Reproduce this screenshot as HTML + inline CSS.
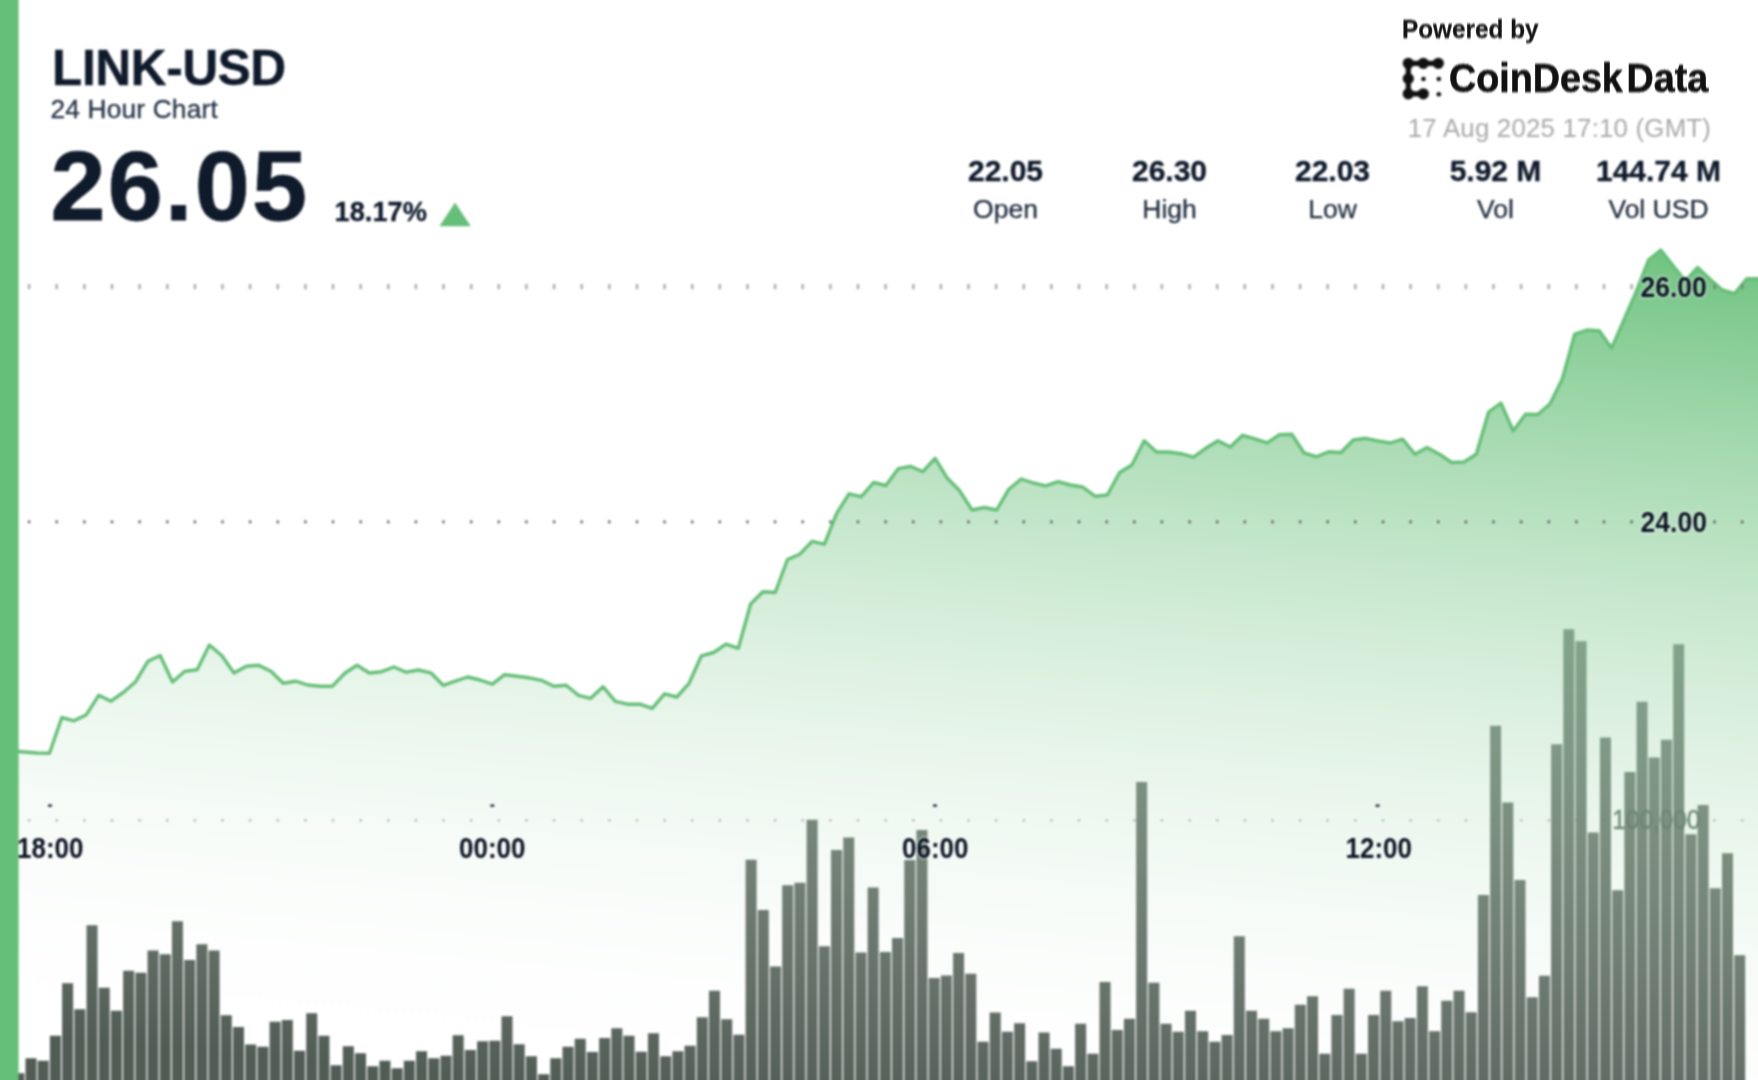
<!DOCTYPE html>
<html><head><meta charset="utf-8"><title>LINK-USD 24 Hour Chart</title>
<style>
html,body{margin:0;padding:0;background:#fff;overflow:hidden;}
body{width:1758px;height:1080px;overflow:hidden;position:relative;font-family:"Liberation Sans",sans-serif;color:#0f1a2b;}
svg{position:absolute;left:-20px;top:-20px;filter:blur(0.8px);}
.t{position:absolute;white-space:nowrap;line-height:1;transform-origin:0 0;filter:blur(0.8px);}
.b{font-weight:bold;}
.c{position:absolute;white-space:nowrap;line-height:1;text-align:center;transform:translateX(-50%);filter:blur(0.8px);}
</style></head><body>
<svg width="1798" height="1120" viewBox="-20 -20 1798 1120">
<defs>
<linearGradient id="ag" gradientUnits="userSpaceOnUse" x1="1758" y1="225.6" x2="1668.5" y2="1188.1">
<stop offset="0" stop-color="#66bf78" stop-opacity="1"/>
<stop offset="1" stop-color="#ffffff" stop-opacity="0"/>
</linearGradient>
</defs>
<rect x="-20" y="-20" width="1798" height="1120" fill="#fff"/>
<path d="M28.0,819.0h2.2v2.6h-2.2zM55.6,819.0h2.2v2.6h-2.2zM83.3,819.0h2.2v2.6h-2.2zM110.9,819.0h2.2v2.6h-2.2zM138.5,819.0h2.2v2.6h-2.2zM166.2,819.0h2.2v2.6h-2.2zM193.8,819.0h2.2v2.6h-2.2zM221.4,819.0h2.2v2.6h-2.2zM249.0,819.0h2.2v2.6h-2.2zM276.7,819.0h2.2v2.6h-2.2zM304.3,819.0h2.2v2.6h-2.2zM331.9,819.0h2.2v2.6h-2.2zM359.6,819.0h2.2v2.6h-2.2zM387.2,819.0h2.2v2.6h-2.2zM414.8,819.0h2.2v2.6h-2.2zM442.4,819.0h2.2v2.6h-2.2zM470.1,819.0h2.2v2.6h-2.2zM497.7,819.0h2.2v2.6h-2.2zM525.3,819.0h2.2v2.6h-2.2zM553.0,819.0h2.2v2.6h-2.2zM580.6,819.0h2.2v2.6h-2.2zM608.2,819.0h2.2v2.6h-2.2zM635.9,819.0h2.2v2.6h-2.2zM663.5,819.0h2.2v2.6h-2.2zM691.1,819.0h2.2v2.6h-2.2zM718.7,819.0h2.2v2.6h-2.2zM746.4,819.0h2.2v2.6h-2.2zM774.0,819.0h2.2v2.6h-2.2zM801.6,819.0h2.2v2.6h-2.2zM829.3,819.0h2.2v2.6h-2.2zM856.9,819.0h2.2v2.6h-2.2zM884.5,819.0h2.2v2.6h-2.2zM912.2,819.0h2.2v2.6h-2.2zM939.8,819.0h2.2v2.6h-2.2zM967.4,819.0h2.2v2.6h-2.2zM995.0,819.0h2.2v2.6h-2.2zM1022.7,819.0h2.2v2.6h-2.2zM1050.3,819.0h2.2v2.6h-2.2zM1077.9,819.0h2.2v2.6h-2.2zM1105.6,819.0h2.2v2.6h-2.2zM1133.2,819.0h2.2v2.6h-2.2zM1160.8,819.0h2.2v2.6h-2.2zM1188.5,819.0h2.2v2.6h-2.2zM1216.1,819.0h2.2v2.6h-2.2zM1243.7,819.0h2.2v2.6h-2.2zM1271.4,819.0h2.2v2.6h-2.2zM1299.0,819.0h2.2v2.6h-2.2zM1326.6,819.0h2.2v2.6h-2.2zM1354.2,819.0h2.2v2.6h-2.2zM1381.9,819.0h2.2v2.6h-2.2zM1409.5,819.0h2.2v2.6h-2.2zM1437.1,819.0h2.2v2.6h-2.2zM1464.8,819.0h2.2v2.6h-2.2zM1492.4,819.0h2.2v2.6h-2.2zM1520.0,819.0h2.2v2.6h-2.2zM1547.7,819.0h2.2v2.6h-2.2zM1575.3,819.0h2.2v2.6h-2.2zM1602.9,819.0h2.2v2.6h-2.2zM1630.5,819.0h2.2v2.6h-2.2zM1658.2,819.0h2.2v2.6h-2.2zM1685.8,819.0h2.2v2.6h-2.2zM1713.4,819.0h2.2v2.6h-2.2zM1741.1,819.0h2.2v2.6h-2.2z" fill="#5f5a5f" fill-opacity="0.55"/>
<text x="1656.3" y="829.4" text-anchor="middle" textLength="88" lengthAdjust="spacingAndGlyphs" font-family="Liberation Sans, sans-serif" font-size="27.5" fill="rgb(38,68,48)" fill-opacity="0.9" stroke="rgb(38,68,48)" stroke-opacity="0.6" stroke-width="0.7">100,000</text>
<path d="M13.29,1110V1073.3h11.0V1110zM25.50,1110V1058.3h11.0V1110zM37.70,1110V1060.8h11.0V1110zM49.91,1110V1035.8h11.0V1110zM62.11,1110V983.3h11.0V1110zM74.32,1110V1009.2h11.0V1110zM86.53,1110V925.3h11.0V1110zM98.73,1110V987.8h11.0V1110zM110.94,1110V1010.8h11.0V1110zM123.14,1110V970.8h11.0V1110zM135.34,1110V972.8h11.0V1110zM147.55,1110V950.5h11.0V1110zM159.75,1110V954.2h11.0V1110zM171.96,1110V921.2h11.0V1110zM184.16,1110V960.0h11.0V1110zM196.37,1110V944.2h11.0V1110zM208.57,1110V950.5h11.0V1110zM220.78,1110V1015.3h11.0V1110zM232.98,1110V1027.0h11.0V1110zM245.19,1110V1044.5h11.0V1110zM257.39,1110V1046.7h11.0V1110zM269.60,1110V1021.7h11.0V1110zM281.81,1110V1020.0h11.0V1110zM294.01,1110V1050.8h11.0V1110zM306.22,1110V1013.3h11.0V1110zM318.42,1110V1035.8h11.0V1110zM330.62,1110V1065.3h11.0V1110zM342.83,1110V1046.2h11.0V1110zM355.03,1110V1053.3h11.0V1110zM367.24,1110V1066.2h11.0V1110zM379.45,1110V1060.8h11.0V1110zM391.65,1110V1068.3h11.0V1110zM403.86,1110V1060.8h11.0V1110zM416.06,1110V1051.2h11.0V1110zM428.26,1110V1058.3h11.0V1110zM440.47,1110V1055.8h11.0V1110zM452.67,1110V1035.3h11.0V1110zM464.88,1110V1050.0h11.0V1110zM477.09,1110V1041.2h11.0V1110zM489.29,1110V1040.8h11.0V1110zM501.50,1110V1016.2h11.0V1110zM513.70,1110V1044.2h11.0V1110zM525.90,1110V1056.2h11.0V1110zM538.11,1110V1074.2h11.0V1110zM550.32,1110V1058.3h11.0V1110zM562.52,1110V1046.7h11.0V1110zM574.73,1110V1038.7h11.0V1110zM586.93,1110V1052.0h11.0V1110zM599.13,1110V1038.0h11.0V1110zM611.34,1110V1028.3h11.0V1110zM623.54,1110V1035.8h11.0V1110zM635.75,1110V1051.7h11.0V1110zM647.95,1110V1033.3h11.0V1110zM660.16,1110V1056.2h11.0V1110zM672.37,1110V1051.3h11.0V1110zM684.57,1110V1045.8h11.0V1110zM696.77,1110V1017.2h11.0V1110zM708.98,1110V990.8h11.0V1110zM721.18,1110V1019.2h11.0V1110zM733.39,1110V1034.7h11.0V1110zM745.60,1110V859.7h11.0V1110zM757.80,1110V910.0h11.0V1110zM770.00,1110V966.5h11.0V1110zM782.21,1110V885.3h11.0V1110zM794.41,1110V882.8h11.0V1110zM806.62,1110V819.7h11.0V1110zM818.82,1110V946.3h11.0V1110zM831.03,1110V850.0h11.0V1110zM843.24,1110V837.5h11.0V1110zM855.44,1110V952.5h11.0V1110zM867.64,1110V887.5h11.0V1110zM879.85,1110V952.0h11.0V1110zM892.05,1110V938.0h11.0V1110zM904.26,1110V860.0h11.0V1110zM916.46,1110V830.0h11.0V1110zM928.67,1110V978.0h11.0V1110zM940.88,1110V975.5h11.0V1110zM953.08,1110V953.0h11.0V1110zM965.28,1110V973.7h11.0V1110zM977.49,1110V1041.7h11.0V1110zM989.69,1110V1012.5h11.0V1110zM1001.90,1110V1031.7h11.0V1110zM1014.11,1110V1023.3h11.0V1110zM1026.31,1110V1061.3h11.0V1110zM1038.52,1110V1032.5h11.0V1110zM1050.72,1110V1048.8h11.0V1110zM1062.92,1110V1066.2h11.0V1110zM1075.13,1110V1023.7h11.0V1110zM1087.34,1110V1053.7h11.0V1110zM1099.54,1110V982.0h11.0V1110zM1111.75,1110V1030.0h11.0V1110zM1123.95,1110V1018.7h11.0V1110zM1136.16,1110V782.0h11.0V1110zM1148.36,1110V982.8h11.0V1110zM1160.57,1110V1023.7h11.0V1110zM1172.77,1110V1031.7h11.0V1110zM1184.98,1110V1010.8h11.0V1110zM1197.18,1110V1031.2h11.0V1110zM1209.38,1110V1041.7h11.0V1110zM1221.59,1110V1035.0h11.0V1110zM1233.80,1110V936.3h11.0V1110zM1246.00,1110V1010.8h11.0V1110zM1258.21,1110V1018.7h11.0V1110zM1270.41,1110V1031.3h11.0V1110zM1282.62,1110V1028.3h11.0V1110zM1294.82,1110V1004.7h11.0V1110zM1307.03,1110V996.2h11.0V1110zM1319.23,1110V1053.7h11.0V1110zM1331.44,1110V1015.0h11.0V1110zM1343.64,1110V988.8h11.0V1110zM1355.85,1110V1053.7h11.0V1110zM1368.05,1110V1015.0h11.0V1110zM1380.26,1110V990.8h11.0V1110zM1392.46,1110V1021.2h11.0V1110zM1404.67,1110V1018.0h11.0V1110zM1416.87,1110V986.2h11.0V1110zM1429.08,1110V1031.3h11.0V1110zM1441.28,1110V1000.8h11.0V1110zM1453.49,1110V990.8h11.0V1110zM1465.69,1110V1012.2h11.0V1110zM1477.89,1110V895.0h11.0V1110zM1490.10,1110V725.8h11.0V1110zM1502.31,1110V802.5h11.0V1110zM1514.51,1110V880.0h11.0V1110zM1526.72,1110V997.2h11.0V1110zM1538.92,1110V975.8h11.0V1110zM1551.12,1110V744.2h11.0V1110zM1563.33,1110V629.2h11.0V1110zM1575.54,1110V641.3h11.0V1110zM1587.74,1110V832.5h11.0V1110zM1599.95,1110V737.5h11.0V1110zM1612.15,1110V890.3h11.0V1110zM1624.36,1110V772.0h11.0V1110zM1636.56,1110V701.7h11.0V1110zM1648.77,1110V757.5h11.0V1110zM1660.97,1110V739.7h11.0V1110zM1673.18,1110V644.2h11.0V1110zM1685.38,1110V834.2h11.0V1110zM1697.59,1110V805.0h11.0V1110zM1709.79,1110V888.3h11.0V1110zM1722.00,1110V853.3h11.0V1110zM1734.20,1110V955.3h11.0V1110z" fill="rgb(56,70,60)" fill-opacity="0.88"/>
<path d="M12.6,751.0 L24.9,752.0 L37.2,753.0 L49.5,753.3 L61.8,717.5 L74.1,720.8 L86.4,714.7 L98.7,695.3 L111.0,701.2 L123.3,692.5 L135.6,681.7 L147.9,661.3 L160.2,655.5 L172.5,682.0 L184.8,671.3 L197.1,669.7 L209.4,645.0 L221.7,655.5 L234.0,673.0 L246.3,666.3 L258.6,665.3 L270.9,671.3 L283.2,683.3 L295.5,681.2 L307.8,685.0 L320.1,686.2 L332.4,686.2 L344.7,673.3 L357.0,665.3 L369.3,673.0 L381.6,671.7 L393.9,667.0 L406.2,672.2 L418.5,670.0 L430.8,672.8 L443.1,685.3 L455.4,681.2 L467.7,677.0 L480.0,680.0 L492.3,684.2 L504.6,674.7 L516.9,676.2 L529.2,677.8 L541.5,680.3 L553.8,686.3 L566.1,685.3 L578.4,695.3 L590.7,698.3 L603.0,686.7 L615.3,701.3 L627.6,704.2 L639.9,704.2 L652.2,708.3 L664.5,693.8 L676.8,697.0 L689.1,683.3 L701.4,655.8 L713.7,652.5 L726.0,644.2 L738.3,648.3 L750.6,604.0 L762.9,591.8 L775.2,592.5 L787.5,559.5 L799.8,554.2 L812.1,541.3 L824.4,544.2 L836.7,513.3 L849.0,493.8 L861.3,496.7 L873.6,482.5 L885.9,485.5 L898.2,468.7 L910.5,466.3 L922.8,471.7 L935.1,458.3 L947.4,478.3 L959.7,490.8 L972.0,510.0 L984.3,507.5 L996.6,510.0 L1008.9,489.2 L1021.2,479.0 L1033.5,483.0 L1045.8,485.8 L1058.1,481.7 L1070.4,485.0 L1082.7,487.0 L1095.0,496.2 L1107.3,495.0 L1119.6,472.5 L1131.9,465.0 L1144.2,440.8 L1156.5,452.0 L1168.8,452.0 L1181.1,453.7 L1193.4,457.2 L1205.7,448.3 L1218.0,440.8 L1230.3,447.0 L1242.6,435.3 L1254.9,438.8 L1267.2,442.8 L1279.5,434.7 L1291.8,434.2 L1304.1,453.0 L1316.4,456.7 L1328.7,451.7 L1341.0,452.5 L1353.3,440.0 L1365.6,438.3 L1377.9,440.8 L1390.2,443.0 L1402.5,439.2 L1414.8,454.2 L1427.1,447.5 L1439.4,454.2 L1451.7,462.5 L1464.0,462.0 L1476.3,454.2 L1488.6,412.0 L1500.9,403.0 L1513.2,431.0 L1525.5,414.2 L1537.8,414.5 L1550.1,403.8 L1562.4,378.8 L1574.7,334.2 L1587.0,330.0 L1599.3,330.8 L1611.6,348.3 L1623.9,320.0 L1636.2,291.7 L1648.5,260.0 L1660.8,250.0 L1673.1,265.8 L1685.4,281.0 L1697.7,267.5 L1710.0,279.2 L1722.3,290.0 L1734.6,293.7 L1746.9,278.7 L1759.2,278.7 L1790,278.7 L1790,278.7 L1790,1110 L-10,1110 L-10,751.0 Z" fill="url(#ag)"/>
<path d="M12.6,751.0 L24.9,752.0 L37.2,753.0 L49.5,753.3 L61.8,717.5 L74.1,720.8 L86.4,714.7 L98.7,695.3 L111.0,701.2 L123.3,692.5 L135.6,681.7 L147.9,661.3 L160.2,655.5 L172.5,682.0 L184.8,671.3 L197.1,669.7 L209.4,645.0 L221.7,655.5 L234.0,673.0 L246.3,666.3 L258.6,665.3 L270.9,671.3 L283.2,683.3 L295.5,681.2 L307.8,685.0 L320.1,686.2 L332.4,686.2 L344.7,673.3 L357.0,665.3 L369.3,673.0 L381.6,671.7 L393.9,667.0 L406.2,672.2 L418.5,670.0 L430.8,672.8 L443.1,685.3 L455.4,681.2 L467.7,677.0 L480.0,680.0 L492.3,684.2 L504.6,674.7 L516.9,676.2 L529.2,677.8 L541.5,680.3 L553.8,686.3 L566.1,685.3 L578.4,695.3 L590.7,698.3 L603.0,686.7 L615.3,701.3 L627.6,704.2 L639.9,704.2 L652.2,708.3 L664.5,693.8 L676.8,697.0 L689.1,683.3 L701.4,655.8 L713.7,652.5 L726.0,644.2 L738.3,648.3 L750.6,604.0 L762.9,591.8 L775.2,592.5 L787.5,559.5 L799.8,554.2 L812.1,541.3 L824.4,544.2 L836.7,513.3 L849.0,493.8 L861.3,496.7 L873.6,482.5 L885.9,485.5 L898.2,468.7 L910.5,466.3 L922.8,471.7 L935.1,458.3 L947.4,478.3 L959.7,490.8 L972.0,510.0 L984.3,507.5 L996.6,510.0 L1008.9,489.2 L1021.2,479.0 L1033.5,483.0 L1045.8,485.8 L1058.1,481.7 L1070.4,485.0 L1082.7,487.0 L1095.0,496.2 L1107.3,495.0 L1119.6,472.5 L1131.9,465.0 L1144.2,440.8 L1156.5,452.0 L1168.8,452.0 L1181.1,453.7 L1193.4,457.2 L1205.7,448.3 L1218.0,440.8 L1230.3,447.0 L1242.6,435.3 L1254.9,438.8 L1267.2,442.8 L1279.5,434.7 L1291.8,434.2 L1304.1,453.0 L1316.4,456.7 L1328.7,451.7 L1341.0,452.5 L1353.3,440.0 L1365.6,438.3 L1377.9,440.8 L1390.2,443.0 L1402.5,439.2 L1414.8,454.2 L1427.1,447.5 L1439.4,454.2 L1451.7,462.5 L1464.0,462.0 L1476.3,454.2 L1488.6,412.0 L1500.9,403.0 L1513.2,431.0 L1525.5,414.2 L1537.8,414.5 L1550.1,403.8 L1562.4,378.8 L1574.7,334.2 L1587.0,330.0 L1599.3,330.8 L1611.6,348.3 L1623.9,320.0 L1636.2,291.7 L1648.5,260.0 L1660.8,250.0 L1673.1,265.8 L1685.4,281.0 L1697.7,267.5 L1710.0,279.2 L1722.3,290.0 L1734.6,293.7 L1746.9,278.7 L1759.2,278.7 L1790,278.7" fill="none" stroke="#66bf78" stroke-width="3.4" stroke-linejoin="round" stroke-linecap="round"/>
<path d="M27.9,284.1h2.4v5.2h-2.4zM55.5,284.1h2.4v5.2h-2.4zM83.2,284.1h2.4v5.2h-2.4zM110.8,284.1h2.4v5.2h-2.4zM138.4,284.1h2.4v5.2h-2.4zM166.1,284.1h2.4v5.2h-2.4zM193.7,284.1h2.4v5.2h-2.4zM221.3,284.1h2.4v5.2h-2.4zM248.9,284.1h2.4v5.2h-2.4zM276.6,284.1h2.4v5.2h-2.4zM304.2,284.1h2.4v5.2h-2.4zM331.8,284.1h2.4v5.2h-2.4zM359.5,284.1h2.4v5.2h-2.4zM387.1,284.1h2.4v5.2h-2.4zM414.7,284.1h2.4v5.2h-2.4zM442.3,284.1h2.4v5.2h-2.4zM470.0,284.1h2.4v5.2h-2.4zM497.6,284.1h2.4v5.2h-2.4zM525.2,284.1h2.4v5.2h-2.4zM552.9,284.1h2.4v5.2h-2.4zM580.5,284.1h2.4v5.2h-2.4zM608.1,284.1h2.4v5.2h-2.4zM635.8,284.1h2.4v5.2h-2.4zM663.4,284.1h2.4v5.2h-2.4zM691.0,284.1h2.4v5.2h-2.4zM718.6,284.1h2.4v5.2h-2.4zM746.3,284.1h2.4v5.2h-2.4zM773.9,284.1h2.4v5.2h-2.4zM801.5,284.1h2.4v5.2h-2.4zM829.2,284.1h2.4v5.2h-2.4zM856.8,284.1h2.4v5.2h-2.4zM884.4,284.1h2.4v5.2h-2.4zM912.1,284.1h2.4v5.2h-2.4zM939.7,284.1h2.4v5.2h-2.4zM967.3,284.1h2.4v5.2h-2.4zM994.9,284.1h2.4v5.2h-2.4zM1022.6,284.1h2.4v5.2h-2.4zM1050.2,284.1h2.4v5.2h-2.4zM1077.8,284.1h2.4v5.2h-2.4zM1105.5,284.1h2.4v5.2h-2.4zM1133.1,284.1h2.4v5.2h-2.4zM1160.7,284.1h2.4v5.2h-2.4zM1188.4,284.1h2.4v5.2h-2.4zM1216.0,284.1h2.4v5.2h-2.4zM1243.6,284.1h2.4v5.2h-2.4zM1271.3,284.1h2.4v5.2h-2.4zM1298.9,284.1h2.4v5.2h-2.4zM1326.5,284.1h2.4v5.2h-2.4zM1354.1,284.1h2.4v5.2h-2.4zM1381.8,284.1h2.4v5.2h-2.4zM1409.4,284.1h2.4v5.2h-2.4zM1437.0,284.1h2.4v5.2h-2.4zM1464.7,284.1h2.4v5.2h-2.4zM1492.3,284.1h2.4v5.2h-2.4zM1519.9,284.1h2.4v5.2h-2.4zM1547.6,284.1h2.4v5.2h-2.4zM1575.2,284.1h2.4v5.2h-2.4zM1602.8,284.1h2.4v5.2h-2.4zM1630.4,284.1h2.4v5.2h-2.4zM1658.1,284.1h2.4v5.2h-2.4zM1685.7,284.1h2.4v5.2h-2.4zM1713.3,284.1h2.4v5.2h-2.4zM1741.0,284.1h2.4v5.2h-2.4z" fill="#666" fill-opacity="0.55"/>
<path d="M27.9,520.4h2.4v2.8h-2.4zM55.5,520.4h2.4v2.8h-2.4zM83.2,520.4h2.4v2.8h-2.4zM110.8,520.4h2.4v2.8h-2.4zM138.4,520.4h2.4v2.8h-2.4zM166.1,520.4h2.4v2.8h-2.4zM193.7,520.4h2.4v2.8h-2.4zM221.3,520.4h2.4v2.8h-2.4zM248.9,520.4h2.4v2.8h-2.4zM276.6,520.4h2.4v2.8h-2.4zM304.2,520.4h2.4v2.8h-2.4zM331.8,520.4h2.4v2.8h-2.4zM359.5,520.4h2.4v2.8h-2.4zM387.1,520.4h2.4v2.8h-2.4zM414.7,520.4h2.4v2.8h-2.4zM442.3,520.4h2.4v2.8h-2.4zM470.0,520.4h2.4v2.8h-2.4zM497.6,520.4h2.4v2.8h-2.4zM525.2,520.4h2.4v2.8h-2.4zM552.9,520.4h2.4v2.8h-2.4zM580.5,520.4h2.4v2.8h-2.4zM608.1,520.4h2.4v2.8h-2.4zM635.8,520.4h2.4v2.8h-2.4zM663.4,520.4h2.4v2.8h-2.4zM691.0,520.4h2.4v2.8h-2.4zM718.6,520.4h2.4v2.8h-2.4zM746.3,520.4h2.4v2.8h-2.4zM773.9,520.4h2.4v2.8h-2.4zM801.5,520.4h2.4v2.8h-2.4zM829.2,520.4h2.4v2.8h-2.4zM856.8,520.4h2.4v2.8h-2.4zM884.4,520.4h2.4v2.8h-2.4zM912.1,520.4h2.4v2.8h-2.4zM939.7,520.4h2.4v2.8h-2.4zM967.3,520.4h2.4v2.8h-2.4zM994.9,520.4h2.4v2.8h-2.4zM1022.6,520.4h2.4v2.8h-2.4zM1050.2,520.4h2.4v2.8h-2.4zM1077.8,520.4h2.4v2.8h-2.4zM1105.5,520.4h2.4v2.8h-2.4zM1133.1,520.4h2.4v2.8h-2.4zM1160.7,520.4h2.4v2.8h-2.4zM1188.4,520.4h2.4v2.8h-2.4zM1216.0,520.4h2.4v2.8h-2.4zM1243.6,520.4h2.4v2.8h-2.4zM1271.3,520.4h2.4v2.8h-2.4zM1298.9,520.4h2.4v2.8h-2.4zM1326.5,520.4h2.4v2.8h-2.4zM1354.1,520.4h2.4v2.8h-2.4zM1381.8,520.4h2.4v2.8h-2.4zM1409.4,520.4h2.4v2.8h-2.4zM1437.0,520.4h2.4v2.8h-2.4zM1464.7,520.4h2.4v2.8h-2.4zM1492.3,520.4h2.4v2.8h-2.4zM1519.9,520.4h2.4v2.8h-2.4zM1547.6,520.4h2.4v2.8h-2.4zM1575.2,520.4h2.4v2.8h-2.4zM1602.8,520.4h2.4v2.8h-2.4zM1630.4,520.4h2.4v2.8h-2.4zM1658.1,520.4h2.4v2.8h-2.4zM1685.7,520.4h2.4v2.8h-2.4zM1713.3,520.4h2.4v2.8h-2.4zM1741.0,520.4h2.4v2.8h-2.4z" fill="#574f58" fill-opacity="0.9"/>
<g fill="#0f1a2b" stroke="#fff" stroke-opacity="0.5" stroke-width="2" paint-order="stroke"><rect x="47.9" y="804.4" width="4.2" height="2.4" rx="0.8"/><rect x="490.2" y="804.4" width="4.2" height="2.4" rx="0.8"/><rect x="932.9" y="804.4" width="4.2" height="2.4" rx="0.8"/><rect x="1375.5" y="804.4" width="4.2" height="2.4" rx="0.8"/></g>
<g font-family="Liberation Sans, sans-serif" font-weight="bold" font-size="29.2" fill="#0a1322" text-anchor="middle" stroke="#fff" stroke-opacity="0.4" stroke-width="3" stroke-linejoin="round" paint-order="stroke">
<text x="50.3" y="857.5" textLength="66.4" lengthAdjust="spacingAndGlyphs">18:00</text><text x="492.3" y="857.5" textLength="66.4" lengthAdjust="spacingAndGlyphs">00:00</text><text x="935.3" y="857.5" textLength="66.4" lengthAdjust="spacingAndGlyphs">06:00</text><text x="1378.8" y="857.5" textLength="66.4" lengthAdjust="spacingAndGlyphs">12:00</text><text x="1673.6" y="297.3" textLength="66.4" lengthAdjust="spacingAndGlyphs">26.00</text><text x="1673.8" y="532.2" textLength="66.4" lengthAdjust="spacingAndGlyphs">24.00</text>
</g>
<rect x="-20" y="-20" width="38.6" height="1120" fill="#66bf78"/>
<path d="M455,202.5 L470.8,226.3 L439.4,226.3 Z" fill="#66bf78"/>
<g fill="#111" stroke="#111" stroke-linecap="round">
<path d="M1408.3,63.3 H1438.3 M1408.3,63.3 V93.8 M1408.3,93.8 H1423.3" stroke-width="5.2" fill="none"/>
<circle cx="1408.3" cy="63.3" r="5.6" stroke="none"/><circle cx="1423.3" cy="63.3" r="5.6" stroke="none"/><circle cx="1438.3" cy="63.3" r="5.6" stroke="none"/>
<circle cx="1408.3" cy="78.6" r="5.6" stroke="none"/><circle cx="1408.3" cy="93.8" r="5.6" stroke="none"/><circle cx="1423.3" cy="93.8" r="5.6" stroke="none"/>
<circle cx="1423.5" cy="79" r="2.3" stroke="none"/><circle cx="1438.8" cy="79" r="2.3" stroke="none"/><circle cx="1438.8" cy="94.2" r="2.3" stroke="none"/>
</g>
</svg>
<div class="t b" id="title" style="left:52.0px;top:43.27px;font-size:49.3px;-webkit-text-stroke:0.5px #0f1a2b;letter-spacing:-0.2px;">LINK-USD</div>
<div class="t" id="sub" style="left:50.4px;top:95.74px;font-size:26.3px;-webkit-text-stroke:0.3px #243246;color:#243246;letter-spacing:0.18px;">24 Hour Chart</div>
<div class="t b" id="price" style="left:50.5px;top:136.00px;font-size:99px;-webkit-text-stroke:0.8px #0f1a2b;letter-spacing:2.2px;">26.05</div>
<div class="t b" id="pct" style="left:334.6px;top:198.18px;font-size:27.2px;-webkit-text-stroke:0.3px #0f1a2b;">18.17%</div>
<div class="t b" id="pow" style="left:1401.8px;top:16.04px;font-size:26.3px;transform:scaleX(0.925);-webkit-text-stroke:0.3px #161616;color:#161616;">Powered by</div>
<div class="t b" id="cd" style="left:1449.3px;top:58.91px;font-size:39.8px;transform:scaleX(0.947);-webkit-text-stroke:0.6px #111;color:#111;">CoinDesk<span style="margin-left:4px">Data</span></div>
<div class="t" id="date" style="left:1407.8px;top:115.76px;font-size:25.8px;color:#a9a9a9;letter-spacing:0.22px;">17 Aug 2025 17:10 (GMT)</div>
<div class="c b" id="v0" style="left:1005.5px;top:155.60px;font-size:30px;-webkit-text-stroke:0.35px #0f1a2b;">22.05</div>
<div class="c" id="l0" style="left:1005.5px;top:195.87px;font-size:26.5px;color:#1d2a3c;-webkit-text-stroke:0.25px #1d2a3c;">Open</div>
<div class="c b" id="v1" style="left:1169.5px;top:155.60px;font-size:30px;-webkit-text-stroke:0.35px #0f1a2b;">26.30</div>
<div class="c" id="l1" style="left:1169.5px;top:195.87px;font-size:26.5px;color:#1d2a3c;-webkit-text-stroke:0.25px #1d2a3c;">High</div>
<div class="c b" id="v2" style="left:1332.5px;top:155.60px;font-size:30px;-webkit-text-stroke:0.35px #0f1a2b;">22.03</div>
<div class="c" id="l2" style="left:1332.5px;top:195.87px;font-size:26.5px;color:#1d2a3c;-webkit-text-stroke:0.25px #1d2a3c;">Low</div>
<div class="c b" id="v3" style="left:1495.5px;top:155.60px;font-size:30px;-webkit-text-stroke:0.35px #0f1a2b;">5.92 M</div>
<div class="c" id="l3" style="left:1495.5px;top:195.87px;font-size:26.5px;color:#1d2a3c;-webkit-text-stroke:0.25px #1d2a3c;">Vol</div>
<div class="c b" id="v4" style="left:1658.5px;top:155.60px;font-size:30px;-webkit-text-stroke:0.35px #0f1a2b;">144.74 M</div>
<div class="c" id="l4" style="left:1658.5px;top:195.87px;font-size:26.5px;color:#1d2a3c;-webkit-text-stroke:0.25px #1d2a3c;">Vol USD</div>
</body></html>
